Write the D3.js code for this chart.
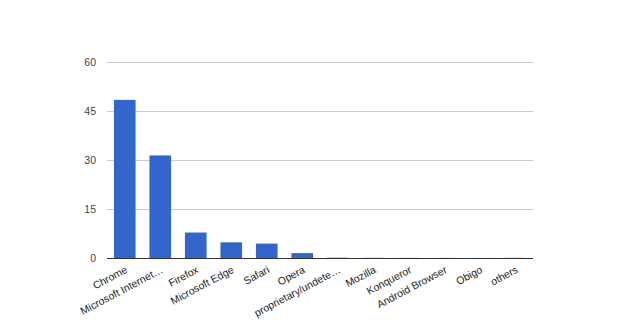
<!DOCTYPE html>
<html><head><meta charset="utf-8">
<script src="https://cdn.jsdelivr.net/npm/d3@7"></script>
<style>body{margin:0;background:#fff}svg{display:block}</style>
</head><body>
<svg id="c" width="640" height="320"></svg>
<script>
const categories = ["Chrome","Microsoft Internet…","Firefox","Microsoft Edge","Safari","Opera","proprietary/undete…","Mozilla","Konqueror","Android Browser","Obigo","others"];
const values = [48.4,31.4,7.8,4.8,4.4,1.5,0.1,0.05,0.03,0.03,0.02,0.05];
const yTicks = [0,15,30,45,60];

const svg = d3.select("#c");
const m = {l:107, r:533, t:62, b:258};
const x = d3.scaleBand().domain(categories).range([m.l,m.r]).paddingInner(0.39).paddingOuter(0.195);
const y = d3.scaleLinear().domain([0,60]).range([m.b,m.t]);

const font = "Arial, 'Liberation Sans', sans-serif";
svg.append("g").selectAll("line").data(yTicks.filter(d=>d>0)).join("line")
  .attr("x1",m.l).attr("x2",m.r).attr("y1",d=>y(d)+0.5).attr("y2",d=>y(d)+0.5)
  .attr("stroke","#cccccc").attr("stroke-width",1);

svg.append("g").selectAll("text").data(yTicks).join("text")
  .attr("x",96).attr("y",d=>y(d)+3.8).attr("text-anchor","end")
  .attr("font-family",font).attr("font-size",10.5).attr("fill","#444")
  .text(d=>d);

svg.append("g").selectAll("rect").data(values).join("rect")
  .attr("x",(d,i)=>x(categories[i])).attr("width",x.bandwidth())
  .attr("y",d=>y(d)).attr("height",d=>y(0)-y(d))
  .attr("fill","#3366cc");

svg.append("line").attr("x1",m.l).attr("x2",m.r).attr("y1",m.b+0.5).attr("y2",m.b+0.5)
  .attr("stroke","#333").attr("stroke-width",1);

svg.append("g").selectAll("text").data(categories).join("text")
  .attr("transform",d=>`translate(${x(d)+x.bandwidth()/2+3.5},${m.b+14}) rotate(-28)`)
  .attr("text-anchor","end")
  .attr("font-family",font).attr("font-size",10.5).attr("fill","#222")
  .text(d=>d);
</script>
</body></html>
